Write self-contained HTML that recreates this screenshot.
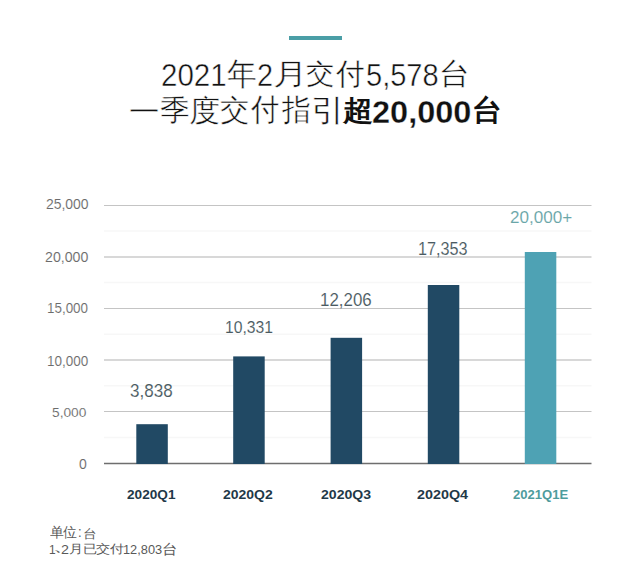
<!DOCTYPE html>
<html><head><meta charset="utf-8">
<style>
html,body{margin:0;padding:0;background:#fff;}
body{width:620px;height:588px;position:relative;overflow:hidden;font-family:"Liberation Sans",sans-serif;}
.t{position:absolute;white-space:nowrap;line-height:1;transform-origin:0 0;}
.s{position:absolute;}
</style></head><body>
<div class="s" style="left:289px;top:36px;width:53px;height:4px;background:#4a9ea6;"></div>
<svg class="s" style="left:0;top:0" width="620" height="588">
<g stroke="#f7f7f7" stroke-width="1.5">
<line x1="104" x2="591.5" y1="231" y2="231"/>
<line x1="104" x2="591.5" y1="282.6" y2="282.6"/>
<line x1="104" x2="591.5" y1="334.2" y2="334.2"/>
<line x1="104" x2="591.5" y1="385.8" y2="385.8"/>
<line x1="104" x2="591.5" y1="437.4" y2="437.4"/>
</g>
<g stroke="#c4c4c4" stroke-width="1.15">
<line x1="104" x2="591.5" y1="205.5" y2="205.5"/>
<line x1="104" x2="591.5" y1="308.5" y2="308.5"/>
<line x1="104" x2="591.5" y1="411.5" y2="411.5"/>
</g>
<g stroke="#b2b2b2" stroke-width="1.15">
<line x1="104" x2="591.5" y1="257.0" y2="257.0"/>
<line x1="104" x2="591.5" y1="360.0" y2="360.0"/>
</g>
<line x1="104" x2="591.5" y1="463.5" y2="463.5" stroke="#6e6e6e" stroke-width="1.3"/>
<g fill="#214964">
<rect x="136.3" y="424.2" width="31.5" height="39.8"/>
<rect x="233.2" y="356.4" width="31.5" height="107.6"/>
<rect x="330.6" y="337.8" width="31.5" height="126.2"/>
<rect x="427.8" y="285" width="31.5" height="179"/>
</g>
<rect x="524.8" y="252" width="31.5" height="212" fill="#4ea2b4"/>
</svg>
<div class="t" style="left:161.03px;top:58.62px;font-size:30px;font-weight:400;color:#111111;-webkit-text-stroke:0.45px #fff;transform:scale(0.9841,1.0750)">2021</div><div class="t" style="left:226.52px;top:58.88px;font-size:30px;font-weight:400;color:#111111;-webkit-text-stroke:0.45px #fff;transform:scale(0.9815,1.0577)">年</div><div class="t" style="left:257.08px;top:58.62px;font-size:30px;font-weight:400;color:#111111;-webkit-text-stroke:0.45px #fff;transform:scale(0.9615,1.0750)">2</div><div class="t" style="left:272.98px;top:58.54px;font-size:30px;font-weight:400;color:#111111;-webkit-text-stroke:0.45px #fff;transform:scale(1.1750,0.9808)">月</div><div class="t" style="left:305.54px;top:59.50px;font-size:30px;font-weight:400;color:#111111;-webkit-text-stroke:0.45px #fff;transform:scale(0.9630,0.9138)">交</div><div class="t" style="left:335.55px;top:58.61px;font-size:30px;font-weight:400;color:#111111;-webkit-text-stroke:0.45px #fff;transform:scale(0.9464,0.9926)">付</div><div class="t" style="left:365.56px;top:60.25px;font-size:30px;font-weight:400;color:#111111;-webkit-text-stroke:0.45px #fff;transform:scale(0.9681,1.0500)">5,578</div><div class="t" style="left:439.31px;top:59.20px;font-size:30px;font-weight:400;color:#111111;-webkit-text-stroke:0.45px #fff;transform:scale(1.0304,0.9963)">台</div><div class="t" style="left:128.96px;top:96.50px;font-size:30px;font-weight:400;color:#111111;-webkit-text-stroke:0.45px #fff;transform:scale(1.0192,1.0000)">一</div><div class="t" style="left:160.38px;top:95.02px;font-size:30px;font-weight:400;color:#111111;-webkit-text-stroke:0.45px #fff;transform:scale(1.0077,0.9815)">季</div><div class="t" style="left:189.42px;top:96.00px;font-size:30px;font-weight:400;color:#111111;-webkit-text-stroke:0.45px #fff;transform:scale(1.0385,1.0000)">度</div><div class="t" style="left:220.02px;top:96.00px;font-size:30px;font-weight:400;color:#111111;-webkit-text-stroke:0.45px #fff;transform:scale(0.9815,0.9655)">交</div><div class="t" style="left:251.05px;top:93.93px;font-size:30px;font-weight:400;color:#111111;-webkit-text-stroke:0.45px #fff;transform:scale(0.9464,1.0370)">付</div><div class="t" style="left:281.54px;top:95.00px;font-size:30px;font-weight:400;color:#111111;-webkit-text-stroke:0.45px #fff;transform:scale(0.9630,1.0000)">指</div><div class="t" style="left:310.55px;top:94.92px;font-size:30px;font-weight:400;color:#111111;-webkit-text-stroke:0.45px #fff;transform:scale(1.1500,1.0385)">引</div><div class="t" style="left:342.50px;top:95.50px;font-size:30px;font-weight:700;color:#111111;transform:scale(1.0179,0.9483)">超</div><div class="t" style="left:372.48px;top:96.73px;font-size:32px;font-weight:700;color:#111111;-webkit-text-stroke:0.3px #fff;transform:scale(1.0158,0.9545)">20,000</div><div class="t" style="left:472.00px;top:96.00px;font-size:30px;font-weight:700;color:#111111;transform:scale(1.0000,0.9655)">台</div><div class="t" style="left:45.60px;top:197.44px;font-size:14px;font-weight:400;color:#6b6b6b;-webkit-text-stroke:0.1px #fff;transform:scale(0.9951,1.0300)">25,000</div><div class="t" style="left:45.09px;top:249.80px;font-size:14px;font-weight:400;color:#6b6b6b;-webkit-text-stroke:0.1px #fff;transform:scale(1.0122,1.0000)">20,000</div><div class="t" style="left:46.74px;top:301.24px;font-size:14px;font-weight:400;color:#6b6b6b;-webkit-text-stroke:0.1px #fff;transform:scale(0.9585,0.9800)">15,000</div><div class="t" style="left:47.14px;top:353.52px;font-size:14px;font-weight:400;color:#6b6b6b;-webkit-text-stroke:0.1px #fff;transform:scale(0.9634,0.9900)">10,000</div><div class="t" style="left:52.42px;top:404.58px;font-size:14px;font-weight:400;color:#6b6b6b;-webkit-text-stroke:0.1px #fff;transform:scale(0.9824,0.9600)">5,000</div><div class="t" style="left:79.00px;top:457.20px;font-size:14px;font-weight:400;color:#6b6b6b;-webkit-text-stroke:0.1px #fff;transform:scale(1.0000,1.0000)">0</div><div class="t" style="left:130.20px;top:382.48px;font-size:17px;font-weight:400;color:#4a5a61;-webkit-text-stroke:0.1px #fff;transform:scale(1.0024,1.0583)">3,838</div><div class="t" style="left:224.58px;top:318.80px;font-size:17px;font-weight:400;color:#4a5a61;-webkit-text-stroke:0.1px #fff;transform:scale(0.9240,1.0000)">10,331</div><div class="t" style="left:320.31px;top:292.05px;font-size:17px;font-weight:400;color:#4a5a61;-webkit-text-stroke:0.1px #fff;transform:scale(0.9940,1.0250)">12,206</div><div class="t" style="left:418.25px;top:240.75px;font-size:17px;font-weight:400;color:#4a5a61;-webkit-text-stroke:0.1px #fff;transform:scale(0.9540,1.0250)">17,353</div><div class="t" style="left:509.59px;top:208.53px;font-size:17px;font-weight:400;color:#6aa6a8;-webkit-text-stroke:0.1px #fff;transform:scale(1.0067,0.9833)">20,000+</div><div class="t" style="left:127.40px;top:487.96px;font-size:13px;font-weight:700;color:#1f3948;transform:scale(1.0478,1.0222)">2020Q1</div><div class="t" style="left:223.00px;top:487.96px;font-size:13px;font-weight:700;color:#1f3948;transform:scale(1.0761,1.0222)">2020Q2</div><div class="t" style="left:320.60px;top:487.98px;font-size:13px;font-weight:700;color:#1f3948;transform:scale(1.0826,1.0111)">2020Q3</div><div class="t" style="left:417.00px;top:487.98px;font-size:13px;font-weight:700;color:#1f3948;transform:scale(1.1043,1.0111)">2020Q4</div><div class="t" style="left:512.50px;top:487.91px;font-size:13px;font-weight:700;color:#4e9c9d;transform:scale(1.0037,1.0444)">2021Q1E</div><div class="t" style="left:50.40px;top:525.96px;font-size:13px;font-weight:400;color:#595959;transform:scale(1.0320,1.0417)">单位</div><div class="t" style="left:78.00px;top:524.13px;font-size:13px;font-weight:400;color:#595959;transform:scale(1.0000,1.1429)">:</div><div class="t" style="left:83.21px;top:527.65px;font-size:13px;font-weight:400;color:#595959;transform:scale(1.0900,0.9545)">台</div><div class="t" style="left:49.18px;top:542.51px;font-size:13px;font-weight:400;color:#595959;transform:scale(0.9167,1.0444)">1</div><div class="t" style="left:51.70px;top:538.90px;font-size:13px;font-weight:400;color:#595959;transform:scale(2.0000,1.1000)">、</div><div class="t" style="left:61.10px;top:542.51px;font-size:13px;font-weight:400;color:#595959;transform:scale(1.1000,1.0444)">2</div><div class="t" style="left:69.15px;top:543.10px;font-size:13px;font-weight:400;color:#595959;transform:scale(1.0520,0.8923)">月已交付</div><div class="t" style="left:123.22px;top:542.51px;font-size:13px;font-weight:400;color:#595959;transform:scale(0.9842,1.0444)">12,803</div><div class="t" style="left:161.94px;top:542.05px;font-size:13px;font-weight:400;color:#595959;transform:scale(1.1600,1.0545)">台</div></body></html>
